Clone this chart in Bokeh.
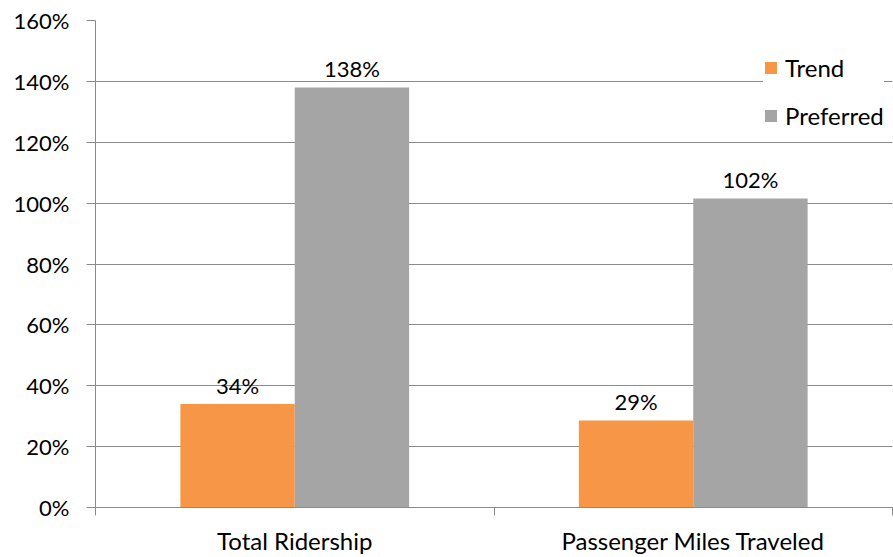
from bokeh.plotting import figure
from bokeh.models import (ColumnDataSource, Range1d, FixedTicker, NumeralTickFormatter,
                          Legend, LegendItem)
from bokeh.core.properties import value
from bokeh.embed import file_html
from bokeh.resources import INLINE

categories = ["Total Ridership", "Passenger Miles Traveled"]
trend = [0.34, 0.286]
preferred = [1.38, 1.015]
trend_labels = ["34%", "29%"]
preferred_labels = ["138%", "102%"]
y_ticks = [0, 0.2, 0.4, 0.6, 0.8, 1.0, 1.2, 1.4, 1.6]

ORANGE = "#F79646"
GREY = "#A5A5A5"
AXIS = "#8A8A8A"
FONT = "Lato"
FS_NUM = "22px"
FS_TXT = "24px"

bar_w = 0.287
centers = [i + 0.5 for i in range(len(categories))]
src_t = ColumnDataSource(dict(x=[c - bar_w / 2 for c in centers], top=trend, lab=trend_labels))
src_p = ColumnDataSource(dict(x=[c + bar_w / 2 for c in centers], top=preferred, lab=preferred_labels))

p = figure(width=893, height=557, output_backend="svg", toolbar_location=None,
           x_range=Range1d(0, len(categories)), y_range=Range1d(0, 1.6),
           min_border_left=95, min_border_right=1, min_border_top=20, min_border_bottom=49)
p.outline_line_color = None
p.background_fill_color = "white"
p.border_fill_color = "white"

rt = p.vbar(x="x", top="top", width=bar_w, source=src_t, fill_color=ORANGE, line_color=None)
rp = p.vbar(x="x", top="top", width=bar_w, source=src_p, fill_color=GREY, line_color=None)

for s in (src_t, src_p):
    p.text(x="x", y="top", text="lab", source=s, y_offset=-19, text_align="center",
           text_baseline="alphabetic", text_font=value(FONT), text_font_size=FS_NUM,
           text_color="#000000")

# y axis
ya = p.yaxis[0]
ya.ticker = FixedTicker(ticks=y_ticks, minor_ticks=[])
ya.formatter = NumeralTickFormatter(format="0%")
ya.axis_line_color = AXIS
ya.major_tick_line_color = AXIS
ya.major_tick_out = 9
ya.major_tick_in = 0
ya.minor_tick_line_color = None
ya.major_label_text_font = FONT
ya.major_label_text_font_size = FS_NUM
ya.major_label_text_color = "#000000"
ya.major_label_standoff = 17

# x axis: labels at centers, ticks at category boundaries
xa = p.xaxis[0]
xa.ticker = FixedTicker(ticks=centers, minor_ticks=list(range(len(categories) + 1)))
xa.major_label_overrides = {c: name for c, name in zip(centers, categories)}
xa.axis_line_color = AXIS
xa.major_tick_line_color = None
xa.major_tick_out = 0
xa.major_tick_in = 0
xa.minor_tick_line_color = AXIS
xa.minor_tick_out = 8
xa.minor_tick_in = 0
xa.major_label_text_font = FONT
xa.major_label_text_font_size = FS_TXT
xa.major_label_text_color = "#000000"
xa.major_label_standoff = 10

p.xgrid.visible = False
p.ygrid[0].ticker = FixedTicker(ticks=y_ticks)
p.ygrid.grid_line_color = AXIS
p.ygrid.grid_line_width = 1

legend = Legend(items=[LegendItem(label="Trend", renderers=[rt]),
                       LegendItem(label="Preferred", renderers=[rp])],
                location=(668, 377), orientation="vertical",
                label_text_font=FONT, label_text_font_size=FS_TXT, label_text_color="#000000",
                glyph_width=15, glyph_height=15, label_standoff=7, label_height=24,
                spacing=19, padding=14, margin=0,
                border_line_color=None, background_fill_color="white", background_fill_alpha=1)
p.add_layout(legend)

open("out.html", "w").write(file_html(p, INLINE))
